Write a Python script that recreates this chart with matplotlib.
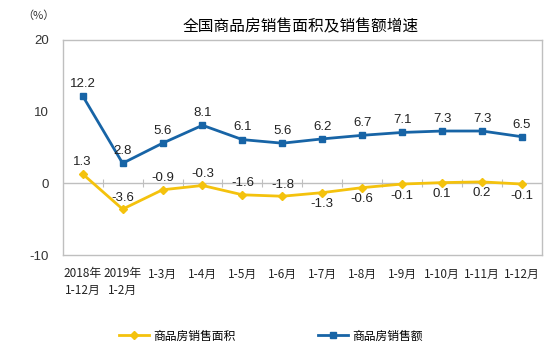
import matplotlib
matplotlib.use("Agg")
import matplotlib.pyplot as plt
from matplotlib.lines import Line2D

plt.rcParams['font.family'] = ['Noto Sans CJK SC', 'DejaVu Sans']

categories = ["2018年\n1-12月", "2019年\n1-2月", "1-3月", "1-4月", "1-5月", "1-6月",
              "1-7月", "1-8月", "1-9月", "1-10月", "1-11月", "1-12月"]
area = [1.3, -3.6, -0.9, -0.3, -1.6, -1.8, -1.3, -0.6, -0.1, 0.1, 0.2, -0.1]
sales = [12.2, 2.8, 5.6, 8.1, 6.1, 5.6, 6.2, 6.7, 7.1, 7.3, 7.3, 6.5]
area_label_above = [True, True, True, True, True, True, False, False, False, False, False, False]
yticks = [-10, 0, 10, 20]

BLUE = "#1764A6"
YELLOW = "#F4C20D"
GRAY = "#BFBFBF"
num_font = ['Liberation Sans', 'Noto Sans CJK SC']

fig = plt.figure(figsize=(5.54, 3.58), dpi=100)
ax = fig.add_axes([62.7/554, 1 - 255/358, (542-62.7)/554, (255-40)/358])

x = list(range(len(categories)))
ax.plot(x, sales, color=BLUE, lw=2, marker='s', ms=5, zorder=3)
ax.plot(x, area, color=YELLOW, lw=2, marker='D', ms=4.5, zorder=3)

for xi, v in zip(x, sales):
    ax.annotate(f"{v:.1f}", (xi, v), xytext=(0, 4.5), textcoords='offset points',
                ha='center', va='bottom', fontsize=9.5, family=num_font, color='#222222')
for xi, v, above in zip(x, area, area_label_above):
    if above:
        ax.annotate(f"{v:.1f}", (xi, v), xytext=(0, 4), textcoords='offset points',
                    ha='center', va='bottom', fontsize=9.5, family=num_font, color='#222222')
    else:
        ax.annotate(f"{v:.1f}", (xi, v), xytext=(0, -4), textcoords='offset points',
                    ha='center', va='top', fontsize=9.5, family=num_font, color='#222222')

ax.set_xlim(-0.5, len(categories) - 0.5)
ax.set_ylim(-10, 20)
ax.set_yticks(yticks)
ax.set_yticklabels([str(t) for t in yticks], family=num_font, fontsize=9.5, color='#333333')
ax.tick_params(axis='y', length=0, pad=10)

ax.set_xticks(x)
ax.set_xticklabels(categories, fontsize=8.5, linespacing=1.3, color='#222222')
ax.tick_params(axis='x', length=0, pad=9)
for lab in ax.get_xticklabels():
    lab.set_va('top')

for s in ax.spines.values():
    s.set_color(GRAY)
    s.set_linewidth(1)

# zero line with category-boundary tick marks
ax.axhline(0, color=GRAY, lw=1, zorder=1)
sec = ax.secondary_xaxis(1/3)
sec.set_xticks([i + 0.5 for i in range(len(categories) - 1)])
sec.set_xticklabels([])
sec.tick_params(axis='x', direction='out', length=3, color=GRAY, top=True, labeltop=False)
sec.spines['top'].set_visible(False)
sec.spines['bottom'].set_visible(False)

fig.text(301/554, 1 - 27/358, "全国商品房销售面积及销售额增速", ha='center', va='center', fontsize=11.3)
fig.text(38/554, 1 - 16/358, "（%）", ha='center', va='center', fontsize=8, color='#333333')

handles = [Line2D([], [], color=YELLOW, lw=2, marker='D', ms=4.5),
           Line2D([], [], color=BLUE, lw=2, marker='s', ms=5)]
fig.legend(handles, ["商品房销售面积", "商品房销售额"], loc='center',
           bbox_to_anchor=(271/554, 1 - 336/358), ncol=2, frameon=False,
           fontsize=8.5, handlelength=2.5, columnspacing=7, handletextpad=0.4)

fig.savefig("out.png", dpi=100)
